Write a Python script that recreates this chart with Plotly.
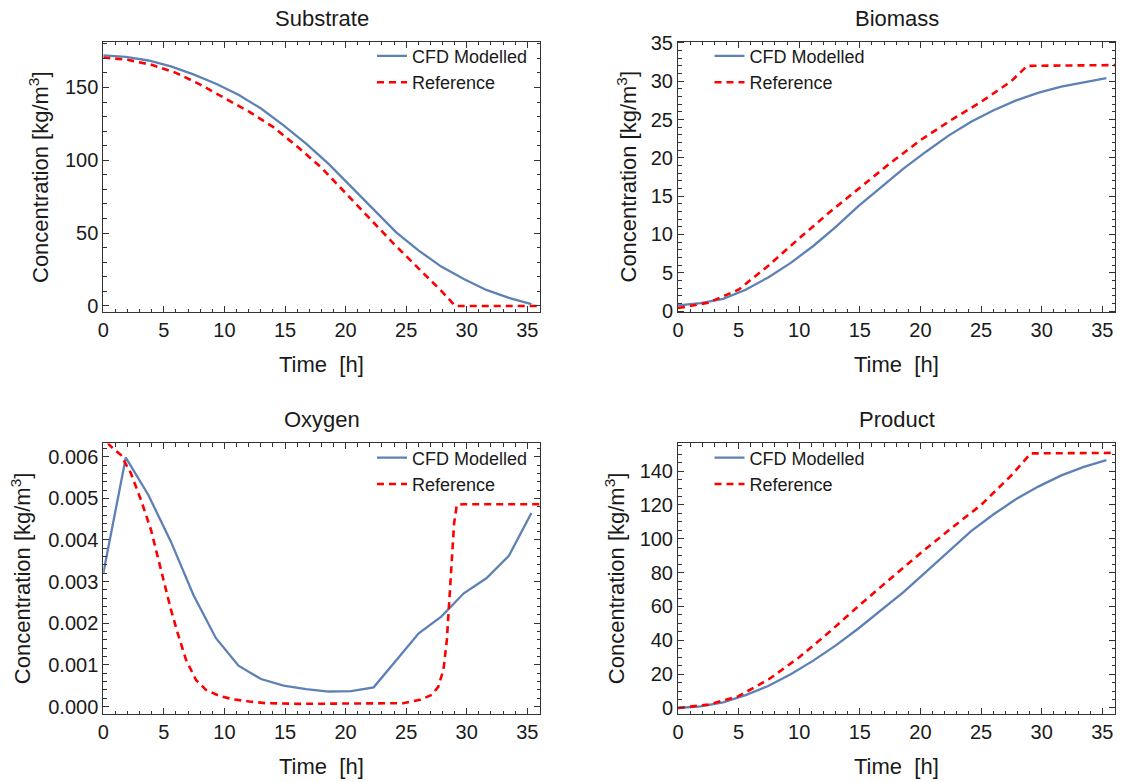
import plotly.graph_objects as go

# ---------------- data ----------------
t_cfd = [0, 1.86, 3.72, 5.58, 7.44, 9.3, 11.16, 13.02, 14.88, 16.74,
         18.6, 20.46, 22.32, 24.18, 26.04, 27.9, 29.76, 31.62, 33.48, 35.34]

substrate_cfd = [172, 171, 168.5, 164.5, 159, 152.5, 145, 135.5, 124, 111.5,
                 97.5, 82, 66, 50.5, 38, 27, 18.5, 11, 5.5, 1.2]
substrate_ref_t = [0, 2, 4, 6, 8, 10, 12, 14, 16, 18, 20, 22, 24, 26, 28, 29.05, 36.1]
substrate_ref = [170.5, 169, 165.5, 160, 152, 143, 133.5, 123, 109.5, 95, 77.5,
                 59.5, 42.5, 26, 9.5, 0, 0]

biomass_cfd = [0.75, 1.05, 1.6, 2.8, 4.4, 6.3, 8.5, 11.0, 13.7, 16.2,
               18.6, 20.8, 22.9, 24.7, 26.2, 27.5, 28.5, 29.3, 29.9, 30.4]
biomass_ref_t = [0, 2.5, 5, 7.5, 10, 12.5, 15, 17.5, 20, 22.5, 25, 27.5, 28.8, 36.1]
biomass_ref = [0.4, 1.1, 2.8, 6.0, 9.5, 12.9, 16.1, 19.3, 22.3, 24.9, 27.3, 30.0, 32.0, 32.1]

oxygen_cfd = [0.0032, 0.00598, 0.00508, 0.00396, 0.00268, 0.00164, 0.00098, 0.00066,
              0.0005, 0.00042, 0.00036, 0.00037, 0.00046, 0.00111, 0.00176, 0.00216,
              0.00272, 0.00308, 0.00362, 0.00465]
oxygen_ref_t = [0, 0.5, 1.46, 2.28, 3.11, 3.94, 4.49, 5.04, 5.59, 6.14, 6.83,
                7.65, 8.48, 9.58, 10.68, 12.06, 13.43, 16.2, 24.77, 26.15, 27.12,
                27.66, 28.08, 28.36, 28.63, 28.85, 28.96, 29.18, 29.73, 36.1]
oxygen_ref = [0.0066, 0.00628, 0.00604, 0.0056, 0.00496, 0.00424, 0.0036,
              0.00296, 0.00232, 0.00176, 0.00112, 0.00064, 0.0004, 0.000256, 0.000176,
              0.00012, 0.00008, 0.000064, 0.00008, 0.00016, 0.00028, 0.00048, 0.00088,
              0.0016, 0.0028, 0.00384, 0.0044, 0.00484, 0.00486, 0.00486]

product_cfd = [0, 1.0, 3.3, 7.6, 13.0, 20.0, 28.0, 37.0, 47.0, 57.5,
               68.5, 80.5, 92.5, 104.5, 114.5, 123.5, 131, 137.5, 142.5, 146.5]
product_ref_t = [0, 2.5, 5, 7.5, 10, 12.5, 15, 17.5, 20, 22.5, 25, 27.5, 29.1, 36.1]
product_ref = [0, 2, 7, 17, 30, 45, 61, 76.5, 91.5, 106, 120, 137.5, 150.5, 150.8]

titles = ["Substrate", "Biomass", "Oxygen", "Product"]
legend_names = ["CFD Modelled", "Reference"]
x_title = "Time\u00a0 [h]"
y_title = "Concentration [kg/m<sup>3</sup>]"

# ---------------- style / layout ----------------
W, H = 1121, 782
FONT = "Liberation Sans, Arial, sans-serif"
TXT = "#1a1a1a"
BLUE = "#5E81B5"
RED = "#FF0000"
FRAME = "#333333"

# plot frames in pixels (left, right, top, bottom)
frames = [(103.3, 540.0, 41.7, 312.3), (678.0, 1115.0, 41.7, 312.3),
          (103.3, 540.0, 443.4, 714.0), (678.0, 1115.0, 443.4, 714.0)]
yranges = [[-4.35, 181.4], [-0.15, 35.15], [-0.00018, 0.00632], [-3.55, 156.4]]
ydticks = [50, 5, 0.001, 20]
yminor = [10, 1, 0.0002, 5]
ytitle_x = [39, 626.5, 20.5, 614.5]
legend_x = [372.0, 709.5, 372.0, 709.5]

series = [
    (t_cfd, substrate_cfd, substrate_ref_t, substrate_ref),
    (t_cfd, biomass_cfd, biomass_ref_t, biomass_ref),
    (t_cfd, oxygen_cfd, oxygen_ref_t, oxygen_ref),
    (t_cfd, product_cfd, product_ref_t, product_ref),
]

fig = go.Figure()
layout = dict(width=W, height=H,
              margin=dict(l=0, r=0, t=0, b=0, pad=0, autoexpand=False),
              paper_bgcolor="white", plot_bgcolor="white", showlegend=True,
              font=dict(family=FONT, color=TXT))
annotations = []


def px2x(p):
    return p / W


def px2y(p):
    return 1 - p / H


for i in range(4):
    n = "" if i == 0 else str(i + 1)
    l, r, t, b = frames[i]
    xa = "x" + n
    ya = "y" + n
    lg = "legend" + n
    tx, yc, trt, yr = series[i]
    fig.add_trace(go.Scatter(x=tx, y=yc, mode="lines", name=legend_names[0],
                             line=dict(color=BLUE, width=2.3), xaxis=xa, yaxis=ya,
                             legend=lg))
    fig.add_trace(go.Scatter(x=trt, y=yr, mode="lines", name=legend_names[1],
                             line=dict(color=RED, width=2.6, dash="7px,5px"),
                             xaxis=xa, yaxis=ya, legend=lg))
    common = dict(showline=True, linecolor=FRAME, linewidth=1, mirror="ticks",
                  ticks="inside", ticklen=6, tickwidth=1, tickcolor=FRAME,
                  showgrid=False, zeroline=False,
                  tickfont=dict(family=FONT, size=20, color=TXT))
    layout["xaxis" + n] = dict(domain=[px2x(l), px2x(r)], range=[0, 36.05],
                               anchor=ya, dtick=5, tick0=0,
                               minor=dict(ticks="inside", ticklen=3.5, dtick=1,
                                          tickcolor=FRAME, tickwidth=1),
                               **common)
    yax = dict(domain=[px2y(b), px2y(t)], range=yranges[i], anchor=xa,
               dtick=ydticks[i], tick0=0,
               minor=dict(ticks="inside", ticklen=3.5, dtick=yminor[i],
                          tickcolor=FRAME, tickwidth=1),
               **common)
    if i == 2:
        yax["tickformat"] = ".3f"
    layout["yaxis" + n] = yax

    cx = (l + r) / 2
    cy = (t + b) / 2
    # subplot title
    annotations.append(dict(text=titles[i], x=px2x(cx), y=px2y(t - 23.5),
                            xref="paper", yref="paper", showarrow=False,
                            xanchor="center", yanchor="middle",
                            font=dict(family=FONT, size=22, color=TXT)))
    # x title
    annotations.append(dict(text=x_title, x=px2x(cx), y=px2y(b + 52.5),
                            xref="paper", yref="paper", showarrow=False,
                            xanchor="center", yanchor="middle",
                            font=dict(family=FONT, size=22, color=TXT)))
    # y title
    annotations.append(dict(text=y_title, x=px2x(ytitle_x[i]), y=px2y(cy),
                            xref="paper", yref="paper", showarrow=False,
                            textangle=-90, xanchor="center", yanchor="middle",
                            font=dict(family=FONT, size=22, color=TXT)))
    # legend
    layout[lg] = dict(x=px2x(legend_x[i]), y=px2y(t - 4), xanchor="left",
                      yanchor="top", bgcolor="rgba(0,0,0,0)", borderwidth=0,
                      itemwidth=30, font=dict(family=FONT, size=18, color=TXT),
                      tracegroupgap=0)

layout["annotations"] = annotations
fig.update_layout(**layout)
fig.write_html("out.html")
